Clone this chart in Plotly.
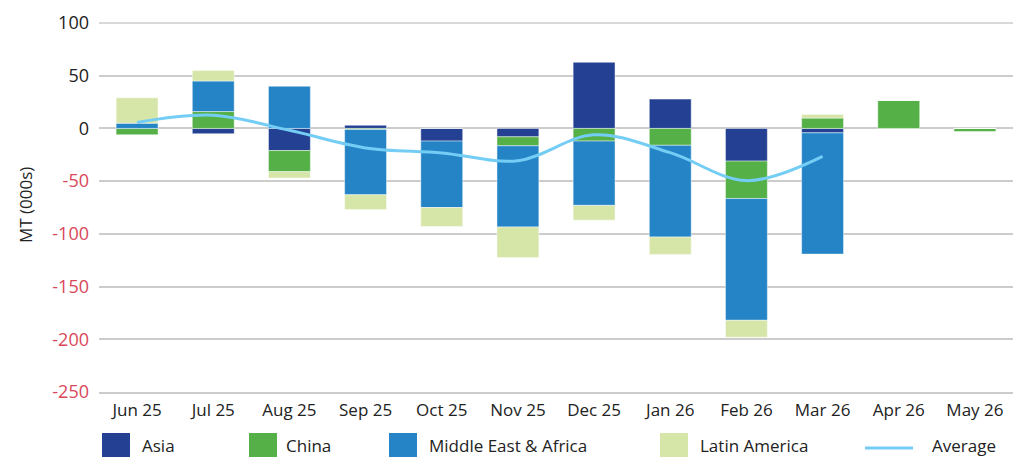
import plotly.graph_objects as go

months = ["Jun 25", "Jul 25", "Aug 25", "Sep 25", "Oct 25", "Nov 25",
          "Dec 25", "Jan 26", "Feb 26", "Mar 26", "Apr 26", "May 26"]
asia = [0, -5, -21, 3, -12, -8, 62.7, 27.8, -31, -4.2, 0, 0]
china = [-6, 16, -20, -1, 0, -8.5, -12, -16, -35.5, 9.8, 26.6, -2.9]
mea = [5, 29, 40, -62, -63, -77, -61, -87, -115.5, -115, 0, 0]
latam = [24, 10, -6, -14, -18, -29, -14, -16.5, -16, 3.5, 0, 0]
average = [5.7, 12.5, -1.8, -18.5, -23.2, -30.6, -6, -23, -49.5, -26.5, None, None]

y_ticks = [100, 50, 0, -50, -100, -150, -200, -250]

series = [
    ("Asia", asia, "#234093"),
    ("China", china, "#55b047"),
    ("Middle East & Africa", mea, "#2584c6"),
    ("Latin America", latam, "#d6e6a8"),
]
avg_color = "#74cdf4"

fig = go.Figure()
for name, vals, col in series:
    fig.add_trace(go.Bar(
        x=months, y=vals, name=name, marker_color=col,
        marker_line=dict(color="rgba(255,255,255,0.45)", width=1),
        showlegend=False,
    ))
fig.add_trace(go.Scatter(
    x=months, y=average, name="Average", mode="lines",
    line=dict(color=avg_color, width=3, shape="spline", smoothing=1),
    showlegend=False,
))

red = "#d9475a"
dark = "#222222"
ticktext = [f'<span style="color:{dark if v >= 0 else red}">{v}</span>' for v in y_ticks]

# page body has an 8px offset; figure sized so the plot lands where the reference has it
W, H = 1016, 449
ML, MR, MT, MB = 91, 11, 15, 65

fig.update_layout(
    width=W, height=H,
    margin=dict(l=ML, r=MR, t=MT, b=MB),
    barmode="relative", bargap=0.45,
    plot_bgcolor="white", paper_bgcolor="white",
    font=dict(family="Open Sans, sans-serif", size=17, color=dark),
)
fig.update_yaxes(
    range=[-250, 100], tickvals=y_ticks, ticktext=ticktext,
    showgrid=True, gridcolor="#cccccc", gridwidth=1.5,
    zeroline=True, zerolinecolor="#cccccc", zerolinewidth=1.5,
    showline=False, ticklabelstandoff=9, tickfont=dict(size=18),
    automargin=False,
)
fig.update_xaxes(
    showgrid=False, showline=True, linecolor="#cccccc", linewidth=2,
    tickfont=dict(size=17, color=dark), ticklabelstandoff=2,
    automargin=False,
)

plot_h = H - MT - MB
plot_w = W - ML - MR

# top gridline (at the upper edge of the plotting area)
fig.add_shape(type="line", xref="paper", yref="paper", x0=0, x1=1, y0=1, y1=1,
              line=dict(color="#cccccc", width=1.5), layer="above")

# positions below are given in page pixels (reference coordinates)
def px_x(px):
    return (px - 8 - ML) / plot_w

def px_y(py):
    return (H - MB - (py - 8)) / plot_h

# y-axis title
fig.add_annotation(
    text="MT (000s)", xref="paper", yref="paper", x=px_x(25), y=px_y(205),
    textangle=-90, showarrow=False, font=dict(size=17, color=dark),
    xanchor="center", yanchor="middle",
)

legend_items = [
    ("Asia", "#234093", 102, 140, "box"),
    ("China", "#55b047", 249, 284, "box"),
    ("Middle East & Africa", "#2584c6", 389, 427, "box"),
    ("Latin America", "#d6e6a8", 660, 698, "box"),
    ("Average", avg_color, 865, 930, "line"),
]
for label, col, sx, tx, kind in legend_items:
    if kind == "box":
        fig.add_shape(type="rect", xref="paper", yref="paper",
                      x0=px_x(sx), x1=px_x(sx + 28), y0=px_y(433), y1=px_y(470),
                      fillcolor=col, line=dict(width=0), layer="above")
    else:
        fig.add_shape(type="line", xref="paper", yref="paper",
                      x0=px_x(sx), x1=px_x(sx + 48), y0=px_y(448), y1=px_y(448),
                      line=dict(color=col, width=3))
    fig.add_annotation(text=label, xref="paper", yref="paper",
                       x=px_x(tx), y=px_y(446), xanchor="left", yanchor="middle",
                       showarrow=False, font=dict(size=17, color=dark))

fig.write_html("out.html", config={"displayModeBar": False})
